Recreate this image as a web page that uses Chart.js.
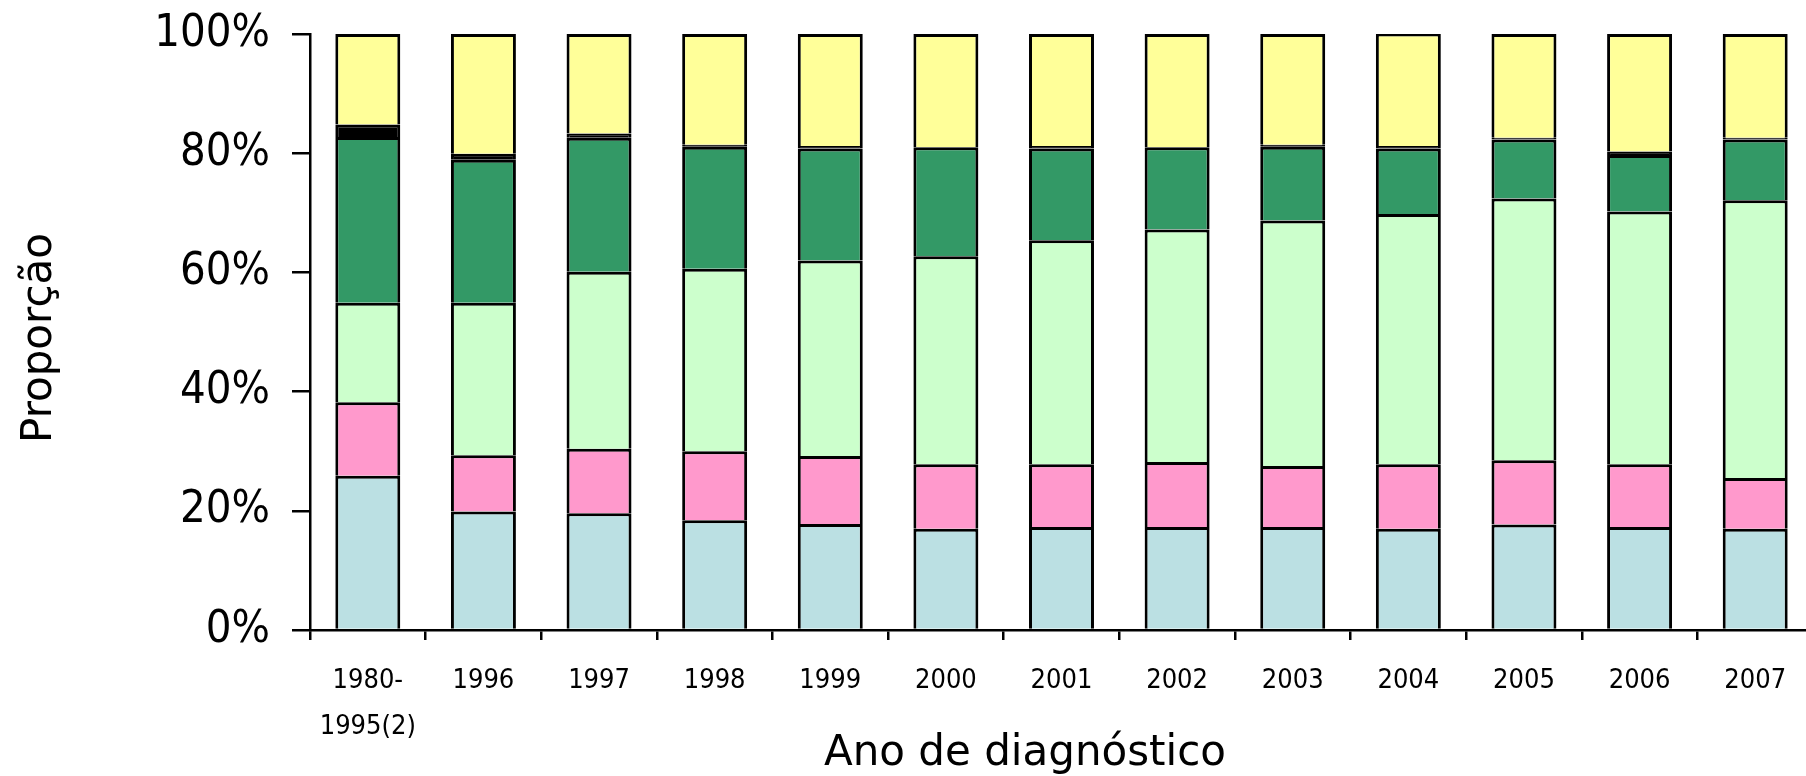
<!DOCTYPE html>
<html lang="pt-br">
<head>
    <meta charset="UTF-8">
    <title>Proporção por ano de diagnóstico</title>
    <script src="https://cdn.jsdelivr.net/npm/chart.js"></script>
    <style>
        body {
            margin: 0;
            background-color: #ffffff;
            overflow: hidden;
        }
        .chart-box {
            width: 1830px;
            height: 776px;
        }
    </style>
</head>
<body>
    <div class="chart-box">
        <canvas id="barChart" width="1830" height="776"></canvas>
    </div>

    <script>
        const anos = [['1980-', '1995(2)'], '1996', '1997', '1998', '1999', '2000', '2001',
                      '2002', '2003', '2004', '2005', '2006', '2007'];

        // proporções (%), de baixo para cima
        const serieAzul = [25.9, 19.9, 19.6, 18.4, 17.8, 17.0, 17.3, 17.3, 17.3, 17.0, 17.7, 17.3, 17.0];
        const serieRosa = [12.3, 9.4, 10.8, 11.6, 11.4, 10.8, 10.5, 10.9, 10.2, 10.8, 10.8, 10.5, 8.5];
        const serieVerdeClaro = [16.7, 25.6, 29.7, 30.6, 32.8, 34.9, 37.6, 39.0, 41.2, 42.0, 43.9, 42.4, 46.6];
        const serieVerdeEscuro = [27.8, 24.0, 22.5, 20.5, 18.8, 18.3, 15.4, 13.8, 12.4, 11.0, 9.9, 9.5, 10.2];
        const seriePreta = [2.1, 1.0, 0.7, 0.3, 0.4, 0.0, 0.4, 0.0, 0.3, 0.4, 0.3, 0.6, 0.3];
        const serieAmarela = [15.2, 20.1, 16.7, 18.6, 18.8, 19.0, 18.8, 19.0, 18.6, 18.9, 17.4, 19.7, 17.4];

        const yTicks = [0, 20, 40, 60, 80, 100];

        const titulosEixos = {
            id: 'titulosEixos',
            afterDraw(chart) {
                const ctx = chart.ctx;
                ctx.save();
                ctx.fillStyle = '#000000';
                ctx.textAlign = 'center';
                ctx.textBaseline = 'alphabetic';
                ctx.font = "42px 'DejaVu Sans'";
                ctx.fillText('Ano de diagnóstico', 1025, 765);
                ctx.translate(51, 338);
                ctx.rotate(-Math.PI / 2);
                ctx.font = "42px 'DejaVu Sans'";
                ctx.fillText('Proporção', 0, 0);
                ctx.restore();
            }
        };

        function serie(label, data, cor) {
            return {
                label: label,
                data: data,
                backgroundColor: cor,
                borderColor: '#000000',
                borderWidth: 3,
                barPercentage: 0.562,
                categoryPercentage: 1.0
            };
        }

        const ctxBar = document.getElementById('barChart').getContext('2d');
        new Chart(ctxBar, {
            type: 'bar',
            data: {
                labels: anos,
                datasets: [
                    serie('Azul', serieAzul, '#BBE0E3'),
                    serie('Rosa', serieRosa, '#FF99CC'),
                    serie('Verde claro', serieVerdeClaro, '#CCFFCC'),
                    serie('Verde escuro', serieVerdeEscuro, '#339966'),
                    serie('Preto', seriePreta, '#000000'),
                    serie('Amarelo', serieAmarela, '#FFFF99')
                ]
            },
            options: {
                responsive: false,
                animation: false,
                layout: {
                    padding: { top: 34, right: 17, bottom: 0, left: 0 }
                },
                plugins: {
                    legend: { display: false },
                    tooltip: { enabled: false }
                },
                scales: {
                    x: {
                        stacked: true,
                        afterFit: (scale) => { scale.height = 146; },
                        grid: {
                            drawOnChartArea: false,
                            color: '#000000',
                            lineWidth: 2.5,
                            tickLength: 10
                        },
                        border: { color: '#000000', width: 2.5 },
                        ticks: {
                            color: '#000000',
                            font: { family: "'Liberation Sans Narrow', 'DejaVu Sans Condensed', sans-serif", size: 27, lineHeight: 1.7 },
                            padding: 18,
                            maxRotation: 0,
                            autoSkip: false
                        }
                    },
                    y: {
                        stacked: true,
                        min: 0,
                        max: 100,
                        afterFit: (scale) => {
                            scale.width = 310;
                            scale.paddingTop = 0;
                            scale.paddingBottom = 0;
                        },
                        afterBuildTicks: (scale) => { scale.ticks = yTicks.map(v => ({ value: v })); },
                        grid: {
                            drawOnChartArea: false,
                            color: '#000000',
                            lineWidth: 2.5,
                            tickLength: 18
                        },
                        border: { color: '#000000', width: 2.5 },
                        ticks: {
                            color: '#000000',
                            font: { family: "'DejaVu Sans Condensed', 'DejaVu Sans', sans-serif", size: 45 },
                            padding: 22,
                            callback: (v) => v + '%'
                        }
                    }
                }
            },
            plugins: [titulosEixos]
        });
    </script>
</body>
</html>
